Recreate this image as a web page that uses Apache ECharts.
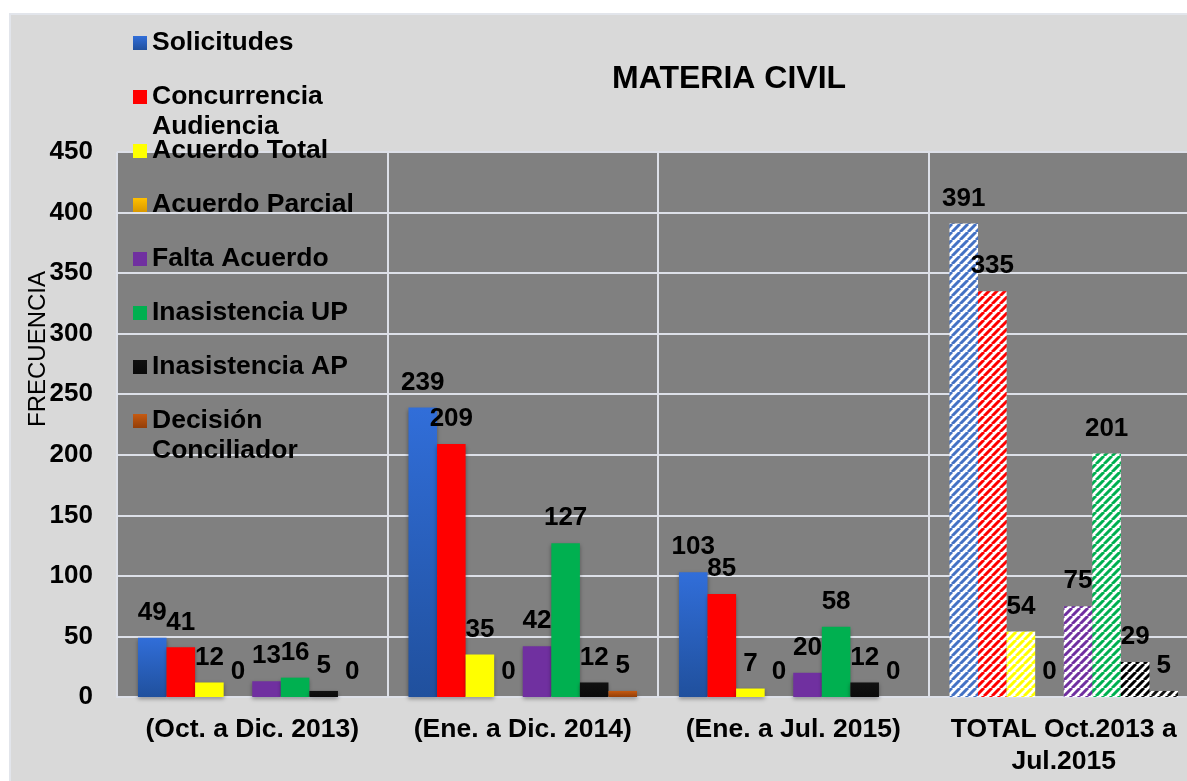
<!DOCTYPE html>
<html>
<head>
<meta charset="utf-8">
<title>Materia Civil</title>
<script src="https://cdn.jsdelivr.net/npm/echarts@6/dist/echarts.min.js"></script>
<style>
  html, body { margin: 0; padding: 0; background: #fff; }
  #chart { width: 1187px; height: 781px; }
</style>
</head>
<body>
<div id="chart"></div>
<script>
// periodos
const categories = [
  '(Oct. a Dic. 2013)',
  '(Ene. a Dic. 2014)',
  '(Ene. a Jul. 2015)',
  'TOTAL Oct.2013 a\nJul.2015'
];

// valores por concepto
const solicitudes = [49, 239, 103, 391];
const concurrencia = [41, 209, 85, 335];
const acuerdoTotal = [12, 35, 7, 54];
const acuerdoParcial = [0, 0, 0, 0];
const faltaAcuerdo = [13, 42, 20, 75];
const inasistenciaUP = [16, 127, 58, 201];
const inasistenciaAP = [5, 12, 12, 29];
const decisionConciliador = [0, 5, 0, 5];

// eje Y
const yMin = 0;
const yMax = 450;
const yStep = 50;

const font = '"Liberation Sans", Arial, sans-serif';

function grad(top, bottom) {
  return new echarts.graphic.LinearGradient(0, 0, 0, 1, [
    { offset: 0, color: top },
    { offset: 1, color: bottom }
  ]);
}

// trama diagonal para la columna TOTAL
function stripes(color) {
  const c = document.createElement('canvas');
  c.width = 8;
  c.height = 8;
  const ctx = c.getContext('2d');
  ctx.fillStyle = '#ffffff';
  ctx.fillRect(0, 0, 8, 8);
  ctx.strokeStyle = color;
  ctx.lineWidth = 3;
  ctx.beginPath();
  for (let k = -8; k <= 8; k += 8) {
    ctx.moveTo(k, 8);
    ctx.lineTo(k + 8, 0);
  }
  ctx.stroke();
  return { image: c, repeat: 'repeat' };
}

// name, data, gradient top/bottom, stripe colour
const seriesSpec = [
  ['Solicitudes', solicitudes, '#316ed9', '#20509d', '#4472c4'],
  ['Concurrencia Audiencia', concurrencia, '#ff0000', '#ff0000', '#ff0000'],
  ['Acuerdo Total', acuerdoTotal, '#ffff00', '#ffff00', '#ffff00'],
  ['Acuerdo Parcial', acuerdoParcial, '#ffc000', '#d99800', '#ffc000'],
  ['Falta Acuerdo', faltaAcuerdo, '#7030a0', '#7030a0', '#7030a0'],
  ['Inasistencia UP', inasistenciaUP, '#00b050', '#00b050', '#00b050'],
  ['Inasistencia AP', inasistenciaAP, '#111111', '#0a0a0a', '#000000'],
  ['Decisión Conciliador', decisionConciliador, '#c55a11', '#933e08', '#111111']
];

// the leading blank line keeps the first line level with the icon
const twoLine = {
  'Concurrencia Audiencia': ' \nConcurrencia\nAudiencia',
  'Decisión Conciliador': ' \nDecisión\nConciliador'
};

const legendY = [43, 97, 151, 205, 259, 313, 367, 421];

const chart = echarts.init(document.getElementById('chart'));

const legends = seriesSpec.map((s, i) => {
  const multi = !!twoLine[s[0]];
  return {
    data: [s[0]],
    left: 133,
    top: legendY[i] - (multi ? 45 : 15),
    padding: 0,
    icon: 'rect',
    itemWidth: 14,
    itemHeight: 14,
    itemGap: 6,
    selectedMode: false,
    formatter: (name) => twoLine[name] || name,
    textStyle: {
      color: '#000',
      fontFamily: font,
      fontWeight: 'bold',
      fontSize: 26.5,
      lineHeight: 30
    }
  };
});

const series = seriesSpec.map((s) => ({
  name: s[0],
  type: 'bar',
  barGap: '0%',
  barCategoryGap: '15.5%',
  itemStyle: {
    color: grad(s[2], s[3]),
    shadowColor: 'rgba(0,0,0,0.35)',
    shadowBlur: 4,
    shadowOffsetY: 2
  },
  label: {
    show: true,
    position: 'top',
    distance: 12,
    color: '#000',
    fontFamily: font,
    fontWeight: 'bold',
    fontSize: 26
  },
  data: s[1].map((v, j) => j === 3
    ? { value: v, itemStyle: { color: stripes(s[4]), shadowBlur: 0, shadowOffsetY: 0 } }
    : v)
}));

chart.setOption({
  backgroundColor: '#ffffff',
  animation: false,
  title: {
    text: 'MATERIA CIVIL',
    left: 612,
    top: 63,
    padding: 0,
    textStyle: {
      color: '#000',
      fontFamily: font,
      fontWeight: 'bold',
      fontSize: 32
    }
  },
  graphic: [
    {
      type: 'rect',
      z: -10,
      shape: { x: 10, y: 14, width: 1180, height: 770 },
      style: { fill: '#d9d9d9', stroke: '#e2e5eb', lineWidth: 2 }
    },
    {
      type: 'text',
      x: 38,
      y: 349,
      rotation: Math.PI / 2,
      style: {
        text: 'FRECUENCIA',
        align: 'center',
        verticalAlign: 'middle',
        fill: '#000',
        font: '24px ' + font
      }
    }
  ],
  legend: legends,
  grid: {
    left: 117,
    top: 152,
    width: 1082,
    bottom: 84,
    outerBoundsMode: 'none',
    show: true,
    backgroundColor: '#808080',
    borderWidth: 0
  },
  xAxis: {
    type: 'category',
    data: categories,
    axisTick: { show: false },
    axisLine: { show: true, lineStyle: { color: '#dde0e8', width: 2 } },
    splitLine: { show: true, interval: 0, lineStyle: { color: '#dde0e8', width: 2 } },
    axisLabel: {
      interval: 0,
      margin: 17,
      color: '#000',
      fontFamily: font,
      fontWeight: 'bold',
      fontSize: 26.5,
      lineHeight: 32
    }
  },
  yAxis: {
    type: 'value',
    min: yMin,
    max: yMax,
    interval: yStep,
    axisLine: { show: false },
    axisTick: { show: false },
    splitLine: { lineStyle: { color: '#dde0e8', width: 2 } },
    axisLabel: {
      margin: 24,
      color: '#000',
      fontFamily: font,
      fontWeight: 'bold',
      fontSize: 26
    }
  },
  series: series
});
</script>
</body>
</html>
